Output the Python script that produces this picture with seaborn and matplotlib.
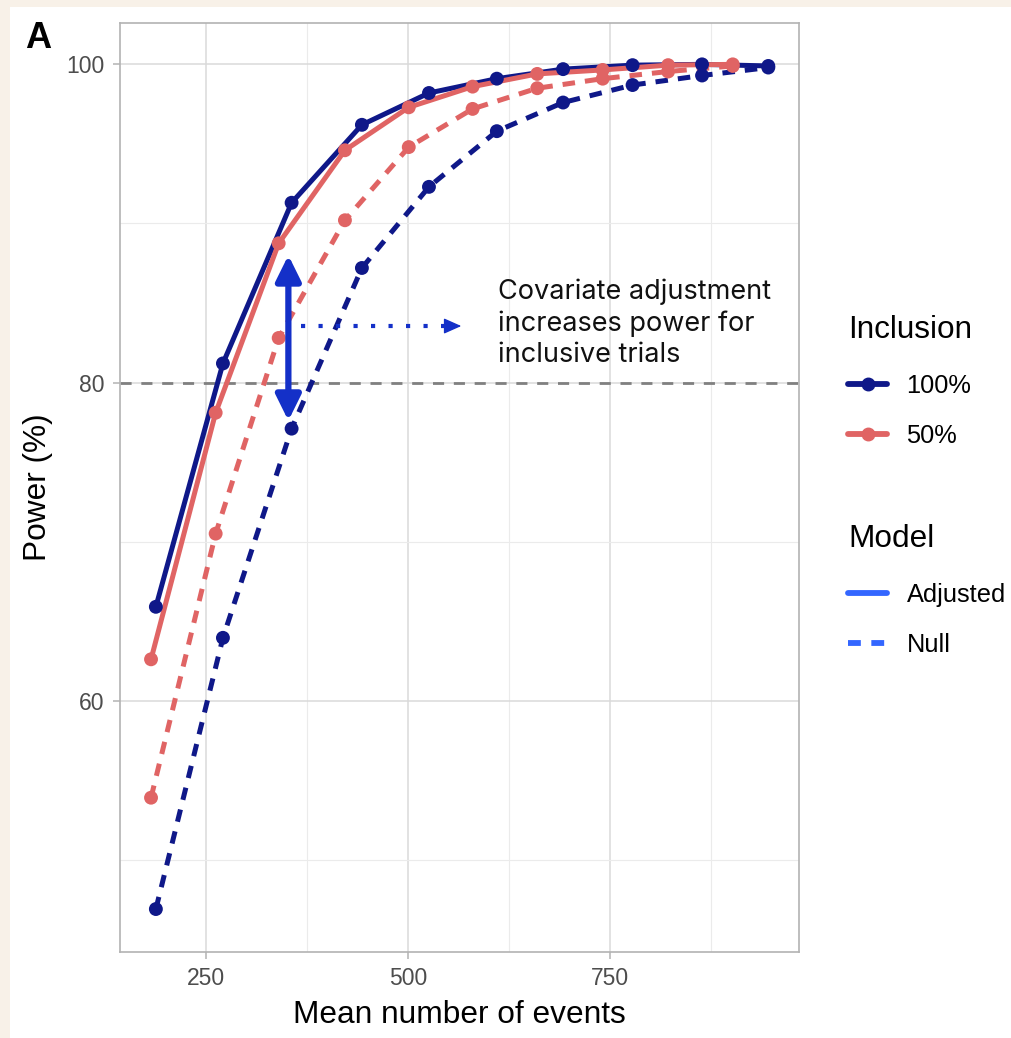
import numpy as np
import pandas as pd
import matplotlib
matplotlib.use("Agg")
import matplotlib.pyplot as plt
from matplotlib.lines import Line2D
from matplotlib.patches import Rectangle
import seaborn as sns

# ---------------- data ----------------
events_100 = [188, 271, 356, 443, 526, 610, 692, 778, 864, 946]
events_50 = [182, 262, 340, 422, 501, 580, 660, 741, 822, 902]
power_100_adjusted = [65.9, 81.2, 91.3, 96.2, 98.2, 99.1, 99.7, 99.95, 100.0, 99.9]
power_100_null = [46.9, 63.95, 77.1, 87.2, 92.3, 95.8, 97.6, 98.7, 99.3, 99.8]
power_50_adjusted = [62.6, 78.1, 88.75, 94.6, 97.3, 98.6, 99.4, 99.65, 99.95, 100.0]
power_50_null = [53.9, 70.5, 82.8, 90.2, 94.8, 97.2, 98.5, 99.1, 99.55, 99.9]
inclusion_levels = ["100%", "50%"]
model_levels = ["Adjusted", "Null"]
x_ticks = [250, 500, 750]
y_ticks = [60, 80, 100]

frames = []
for inc, ev, adj, nul in [("100%", events_100, power_100_adjusted, power_100_null),
                          ("50%", events_50, power_50_adjusted, power_50_null)]:
    frames.append(pd.DataFrame({"events": ev, "power": adj, "Inclusion": inc, "Model": "Adjusted"}))
    frames.append(pd.DataFrame({"events": ev, "power": nul, "Inclusion": inc, "Model": "Null"}))
df = pd.concat(frames, ignore_index=True)

# ---------------- style ----------------
NAVY = "#0f1889"
SALMON = "#e06464"
BLUE = "#3366ff"
ARROW = "#1430c8"
CREAM = "#f8f1e8"
palette = {"100%": NAVY, "50%": SALMON}

sns.set_theme(style="whitegrid")
plt.rcParams["font.family"] = ["Liberation Sans", "DejaVu Sans"]
plt.rcParams["text.color"] = "black"
plt.rcParams["axes.labelcolor"] = "black"

fig = plt.figure(figsize=(10.12, 10.38), dpi=100, facecolor=CREAM)
bg = Rectangle((10 / 1012, 0), 1 - 10 / 1012, 1 - 7 / 1038,
               transform=fig.transFigure, facecolor="white",
               edgecolor="none", zorder=-10)
fig.patches.append(bg)
ax = fig.add_axes([120 / 1012, 1 - 952 / 1038, (799 - 120) / 1012, (952 - 23) / 1038])
ax.set_zorder(1)
ax.set_facecolor("white")

sns.lineplot(data=df, x="events", y="power", hue="Inclusion", style="Model",
             hue_order=inclusion_levels, style_order=model_levels,
             palette=palette, dashes={"Adjusted": "", "Null": (2.5, 2.0)},
             linewidth=3.6, legend=False, ax=ax, zorder=3, sort=True,
             estimator=None)
sns.scatterplot(data=df, x="events", y="power", hue="Inclusion",
                hue_order=inclusion_levels, palette=palette, s=100,
                edgecolor="none", legend=False, ax=ax, zorder=4)

# reference line at 80%
ax.axhline(80, color="#808080", lw=2.0, ls=(0, (4, 3.5)), zorder=2)

# annotation arrows
ax.annotate("", xy=(352, 88.0), xytext=(352, 77.6),
            arrowprops=dict(arrowstyle="<|-|>,head_length=0.85,head_width=0.42",
                            mutation_scale=18, color=ARROW, lw=4.5,
                            shrinkA=0, shrinkB=0),
            zorder=6)
ax.plot([368, 548], [83.55, 83.55], color=ARROW, lw=3.0,
        ls=(0, (1, 3.2)), zorder=6)
ax.annotate("", xy=(566, 83.55), xytext=(548, 83.55),
            arrowprops=dict(arrowstyle="-|>,head_length=0.9,head_width=0.4",
                            mutation_scale=12, color=ARROW, lw=1.0,
                            shrinkA=0, shrinkB=0),
            zorder=6)
ax.text(611, 83.7, "Covariate adjustment\nincreases power for\ninclusive trials",
        fontsize=19.5, family=["Inter", "DejaVu Sans"], color="#111111",
        ha="left", va="center", linespacing=1.26, zorder=7)

# axes
ax.set_xlim(143.6, 984)
ax.set_ylim(44.2, 102.6)
ax.set_xticks(x_ticks)
ax.set_yticks(y_ticks)
ax.set_xticks([375, 625, 875], minor=True)
ax.set_yticks([50, 70, 90], minor=True)
ax.grid(True, which="major", color="#dadada", lw=1.1)
ax.grid(True, which="minor", color="#ebebeb", lw=0.8)
for sp in ax.spines.values():
    sp.set_color("#b3b3b3")
    sp.set_linewidth(1.2)
ax.tick_params(axis="both", which="major", labelsize=16.5, labelcolor="#4d4d4d",
               color="#b3b3b3", length=5, width=1.1, pad=6, bottom=True, left=True)
ax.tick_params(axis="both", which="minor", length=0)
ax.set_xlabel("Mean number of events", fontsize=22.8, color="black", labelpad=7)
ax.set_ylabel("Power (%)", fontsize=22.8, color="black", labelpad=10)

fig.text(25 / 1012, 1 - 38 / 1038, "A", fontsize=26, fontweight="bold",
         ha="left", va="center", color="black")

# legends
inc_handles = [Line2D([0], [0], color=palette[k], lw=4.2, marker="o", markersize=9)
               for k in inclusion_levels]
leg_kw = dict(loc="upper left", frameon=False, fontsize=18.3, title_fontsize=22.7,
              handlelength=1.55, handletextpad=0.75, labelspacing=1.0,
              alignment="left", borderaxespad=0, borderpad=0)
leg1 = fig.legend(inc_handles, inclusion_levels, title="Inclusion",
                  bbox_to_anchor=(848 / 1012, 1 - 315 / 1038), **leg_kw)
mod_handles = [Line2D([0], [0], color=BLUE, lw=4.2, ls="-"),
               Line2D([0], [0], color=BLUE, lw=4.2, ls=(0, (2.2, 1.8)))]
leg2 = fig.legend(mod_handles, model_levels, title="Model",
                  bbox_to_anchor=(848 / 1012, 1 - 524 / 1038), **leg_kw)
for lg in (leg1, leg2):
    lg.get_title().set_color("black")
    lg._legend_box.sep = 21
    for t in lg.get_texts():
        t.set_color("black")

fig.savefig("out.png", dpi=100, facecolor=CREAM)
